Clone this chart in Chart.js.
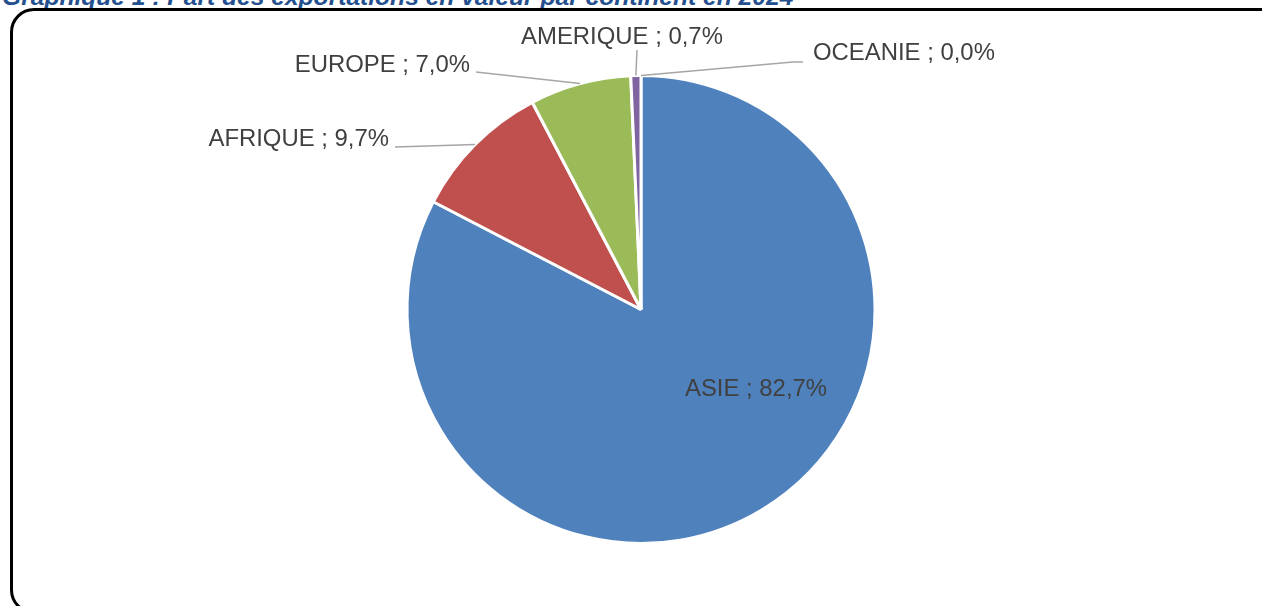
<!DOCTYPE html>
<html lang="fr">
<head>
<meta charset="utf-8">
<title>Part des exportations en valeur par continent</title>
<script src="https://cdn.jsdelivr.net/npm/chart.js@4.4.1/dist/chart.umd.min.js"></script>
<style>
  html, body { margin: 0; padding: 0; background: #fff; overflow: hidden; }
  #titre {
    position: absolute; left: 2px; top: -15.5px; margin: 0;
    font: italic bold 24.6px/24.6px "Liberation Sans", Arial, sans-serif;
    color: #24508f; white-space: nowrap;
  }
  #cadre {
    position: absolute; left: 10px; top: 8px; width: 1270px; height: 600px;
    border: 3px solid #000; border-radius: 24px;
  }
  #graphique { position: absolute; left: 0; top: 0; }
</style>
</head>
<body>
<div id="titre">Graphique 1 : Part des exportations en valeur par continent en 2024</div>
<div id="cadre"></div>
<canvas id="graphique" width="1262" height="606"></canvas>
<script>
/* ======= Données ======= */
const continents = ['ASIE', 'AFRIQUE', 'EUROPE', 'AMERIQUE', 'OCEANIE'];
const parts = [82.7, 9.7, 7.0, 0.7, 0.0];
const couleurs = ['#4f81bd', '#c0504d', '#9bbb59', '#8064a2', '#4bacc6'];

/* ======= Placement des étiquettes (texte + lignes de rappel) ======= */
const etiquettes = [
  { tx: 756, ty: 389, align: 'center' },
  { tx: 389, ty: 139, align: 'right', ligne: [[395, 147]] },
  { tx: 470, ty: 65, align: 'right', ligne: [[476, 72]] },
  { tx: 622, ty: 37, align: 'center', ligne: [[637, 50]] },
  { tx: 813, ty: 53, align: 'left', ligne: [[793, 62], [803, 62]] }
];

function texteEtiquette(i) {
  return continents[i] + ' ; ' + parts[i].toFixed(1).replace('.', ',') + '%';
}

const pluginEtiquettes = {
  id: 'etiquettes',
  afterDatasetsDraw(chart) {
    const ctx = chart.ctx;
    const arcs = chart.getDatasetMeta(0).data;
    ctx.save();
    ctx.font = '23.9px "Liberation Sans", Arial, sans-serif';
    ctx.fillStyle = '#404040';
    ctx.textBaseline = 'middle';
    arcs.forEach((arc, i) => {
      const e = etiquettes[i];
      const { x, y, startAngle, endAngle, outerRadius } =
        arc.getProps(['x', 'y', 'startAngle', 'endAngle', 'outerRadius'], true);
      if (e.ligne) {
        const milieu = (startAngle + endAngle) / 2;
        ctx.beginPath();
        ctx.moveTo(x + Math.cos(milieu) * outerRadius, y + Math.sin(milieu) * outerRadius);
        e.ligne.forEach(p => ctx.lineTo(p[0], p[1]));
        ctx.strokeStyle = '#a6a6a6';
        ctx.lineWidth = 1.5;
        ctx.stroke();
      }
      ctx.textAlign = e.align;
      ctx.fillText(texteEtiquette(i), e.tx, e.ty);
    });
    ctx.restore();
  }
};

/* ======= Graphique ======= */
new Chart(document.getElementById('graphique'), {
  type: 'pie',
  data: {
    labels: continents,
    datasets: [{
      data: parts,
      backgroundColor: couleurs,
      borderColor: '#ffffff',
      borderWidth: 3
    }]
  },
  options: {
    responsive: false,
    animation: false,
    layout: { padding: { top: 74, bottom: 61, left: 20, right: 0 } },
    plugins: {
      legend: { display: false },
      tooltip: { enabled: false }
    }
  },
  plugins: [pluginEtiquettes]
});
</script>
</body>
</html>
